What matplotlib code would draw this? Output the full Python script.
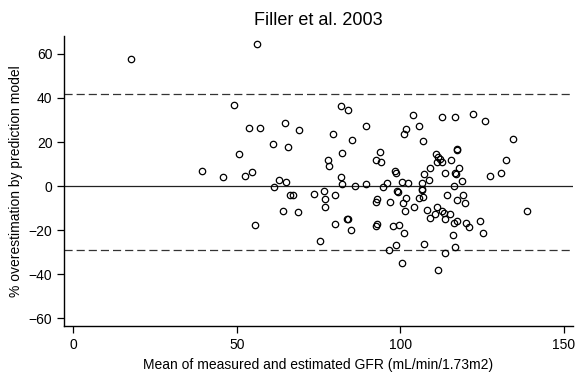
import matplotlib
matplotlib.use("Agg")
import matplotlib.pyplot as plt

# ---- data ----
gfr_mean = [
    17.6, 56.1, 49.1, 53.8, 57.1, 64.8, 61.0, 65.7, 50.7, 39.3,
    45.7, 52.6, 54.6, 62.9, 65.1, 61.4, 66.3, 67.3, 69.0, 55.7,
    64.1, 68.8, 73.7, 76.8, 77.0, 77.1, 75.5, 78.0, 78.1, 81.7,
    84.1, 79.4, 85.1, 89.6, 82.2, 81.7, 82.1, 86.2, 89.6, 93.7,
    92.5, 94.1, 98.3, 98.8, 94.6, 96.0, 100.6, 102.4, 101.1, 101.7,
    104.0, 105.8, 106.8, 111.0, 111.5, 112.1, 112.7, 111.1, 115.5, 112.8,
    116.6, 117.2, 117.2, 122.2, 125.9, 134.5, 132.2, 130.9, 127.5, 107.3,
    109.0, 108.9, 106.6, 113.6, 117.9, 116.8, 117.0, 118.9, 116.4, 80.0,
    99.0, 99.3, 92.9, 92.6, 96.8, 101.8, 100.7, 101.5, 104.1, 83.6,
    83.9, 84.8, 80.1, 92.8, 92.5, 97.8, 99.7, 101.0, 98.7, 96.5,
    100.4, 106.6, 106.6, 106.9, 105.6, 114.3, 119.1, 117.3, 119.8, 108.1,
    111.1, 109.2, 110.5, 112.8, 113.2, 113.8, 115.1, 116.5, 117.2, 120.0,
    121.1, 124.3, 125.2, 116.2, 107.2, 116.7, 113.6, 111.5, 138.7,
]
pct_over = [
    57.6, 64.4, 36.7, 26.2, 26.2, 28.8, 19.1, 17.9, 14.4, 7.0,
    3.9, 4.4, 6.5, 2.6, 2.0, -0.5, -4.0, -4.0, 25.5, -17.9,
    -11.2, -12.0, -3.6, -2.1, -5.9, -9.5, -25.2, 12.0, 9.2, 36.4,
    34.5, 23.8, 20.8, 27.1, 15.0, 4.0, 0.9, -0.2, 1.0, 15.3,
    12.0, 11.1, 6.8, 5.8, -0.5, 1.2, 2.0, 1.3, 23.6, 25.9,
    32.3, 27.4, 20.3, 14.5, 13.3, 12.3, 10.9, 10.9, 12.0, 31.2,
    31.2, 16.5, 16.8, 32.9, 29.7, 21.2, 11.8, 5.9, 4.5, 5.5,
    8.3, 2.7, 1.3, 5.8, 8.0, 5.8, 5.6, 2.3, 0.2, -3.9,
    -2.1, -2.9, -6.0, -7.4, -7.3, -5.3, -7.7, -11.2, -9.6, -15.0,
    -15.1, -20.0, -17.4, -17.4, -18.0, -18.0, -17.9, -21.3, -26.8, -29.1,
    -34.9, -1.5, -2.0, -4.8, -5.3, -4.3, -4.1, -6.4, -7.7, -11.1,
    -9.4, -14.5, -12.9, -11.4, -12.1, -14.9, -12.9, -16.8, -15.8, -17.0,
    -18.6, -15.9, -21.4, -22.1, -26.2, -27.6, -30.5, -38.0, -11.4,
]
ref_line = 0.0
limits = [41.7, -29.2]

x_ticks = [0, 50, 100, 150]
y_ticks = [-60, -40, -20, 0, 20, 40, 60]

plt.rcParams['font.family'] = ['Liberation Sans', 'DejaVu Sans']

fig = plt.figure(figsize=(5.77, 3.76), dpi=100)
ax = fig.add_axes([0.1114, 0.133, 0.8812, 0.772])

ax.axhline(ref_line, color='#222222', lw=0.9, zorder=1)
for lim in limits:
    ax.axhline(lim, color='#333333', lw=0.9, linestyle=(0, (6.5, 3.2)), zorder=1)

ax.plot(gfr_mean, pct_over, linestyle='none', marker='o', markersize=4.6,
        markerfacecolor='none', markeredgecolor='black', markeredgewidth=0.9, zorder=2)

ax.set_xlim(-2.75, 152.7)
ax.set_ylim(-63.6, 68.3)
ax.set_xticks(x_ticks)
ax.set_yticks(y_ticks)

for side in ['top', 'right']:
    ax.spines[side].set_visible(False)
ax.spines['left'].set_linewidth(1.0)
ax.spines['bottom'].set_linewidth(1.0)
ax.tick_params(axis='both', direction='out', length=5, width=0.9, labelsize=10, colors='black')
ax.tick_params(axis='x', pad=4)

ax.set_title("Filler et al. 2003", fontsize=13, pad=8)
ax.set_xlabel("Mean of measured and estimated GFR (mL/min/1.73m2)", fontsize=10, labelpad=4)
ax.set_ylabel("% overestimation by prediction model", fontsize=10, labelpad=4)

fig.savefig("out.png", dpi=100)
